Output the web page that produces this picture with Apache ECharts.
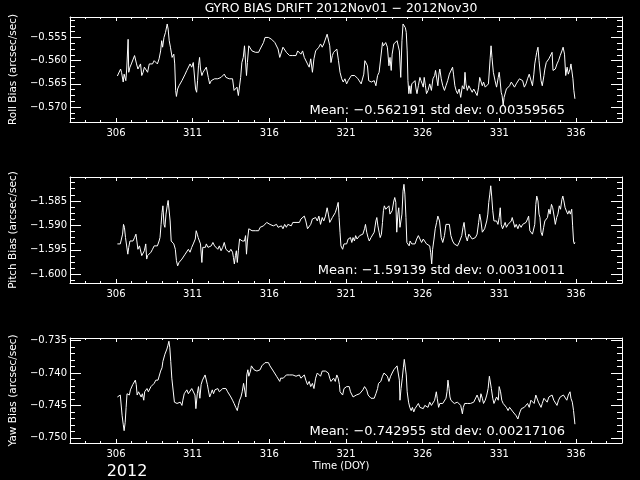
<!DOCTYPE html>
<html><head><meta charset="utf-8">
<script src="https://cdn.jsdelivr.net/npm/echarts@6/dist/echarts.min.js"></script>
<style>html,body{margin:0;padding:0;background:#000}#c{width:640px;height:480px}</style>
</head><body><div id="c"></div>
<script>
const xMajorTicks = [306, 311, 316, 321, 326, 331, 336];
const rollTicks = [-0.570, -0.565, -0.560, -0.555];
const pitchTicks = [-1.600, -1.595, -1.590, -1.585];
const yawTicks = [-0.750, -0.745, -0.740, -0.735];

const rollPoints = [[306.09,-0.5633],[306.19,-0.5629],[306.30,-0.5618],[306.36,-0.5625],[306.47,-0.5646],[306.53,-0.5629],[306.64,-0.5643],[306.70,-0.5618],[306.79,-0.5554],[306.83,-0.5625],[306.91,-0.5614],[307.00,-0.5607],[307.11,-0.5604],[307.21,-0.5589],[307.28,-0.5586],[307.34,-0.5607],[307.43,-0.5618],[307.53,-0.5621],[307.60,-0.5607],[307.68,-0.5632],[307.77,-0.5625],[307.85,-0.5614],[307.96,-0.5611],[308.06,-0.5625],[308.17,-0.5607],[308.28,-0.5604],[308.38,-0.5607],[308.49,-0.5600],[308.60,-0.5604],[308.70,-0.5607],[308.81,-0.5596],[308.91,-0.5579],[308.98,-0.5557],[309.04,-0.5571],[309.13,-0.5550],[309.23,-0.5539],[309.34,-0.5521],[309.40,-0.5532],[309.47,-0.5557],[309.55,-0.5571],[309.66,-0.5593],[309.77,-0.5586],[309.83,-0.5607],[309.89,-0.5664],[309.94,-0.5677],[310.02,-0.5661],[310.11,-0.5654],[310.19,-0.5650],[310.30,-0.5643],[310.40,-0.5639],[310.51,-0.5629],[310.62,-0.5621],[310.72,-0.5618],[310.83,-0.5607],[310.94,-0.5614],[311.04,-0.5604],[311.13,-0.5607],[311.19,-0.5661],[311.26,-0.5668],[311.32,-0.5643],[311.38,-0.5611],[311.45,-0.5593],[311.51,-0.5618],[311.60,-0.5632],[311.68,-0.5625],[311.79,-0.5621],[311.89,-0.5614],[312.02,-0.5636],[312.11,-0.5650],[312.21,-0.5643],[312.32,-0.5646],[312.43,-0.5639],[312.53,-0.5643],[312.64,-0.5639],[312.74,-0.5643],[312.85,-0.5636],[312.96,-0.5639],[313.06,-0.5629],[313.17,-0.5636],[313.28,-0.5632],[313.38,-0.5639],[313.49,-0.5643],[313.60,-0.5639],[313.70,-0.5664],[313.81,-0.5668],[313.89,-0.5657],[313.98,-0.5675],[314.04,-0.5671],[314.13,-0.5636],[314.21,-0.5604],[314.30,-0.5593],[314.38,-0.5568],[314.45,-0.5566],[314.51,-0.5632],[314.57,-0.5604],[314.66,-0.5568],[314.77,-0.5571],[314.87,-0.5579],[314.98,-0.5575],[315.09,-0.5582],[315.19,-0.5579],[315.30,-0.5582],[315.40,-0.5575],[315.51,-0.5571],[315.62,-0.5561],[315.72,-0.5550],[315.83,-0.5546],[315.94,-0.5550],[316.04,-0.5546],[316.15,-0.5554],[316.26,-0.5557],[316.36,-0.5561],[316.47,-0.5564],[316.57,-0.5575],[316.68,-0.5593],[316.79,-0.5593],[316.89,-0.5571],[317.00,-0.5575],[317.11,-0.5582],[317.21,-0.5579],[317.32,-0.5589],[317.43,-0.5589],[317.53,-0.5589],[317.64,-0.5586],[317.74,-0.5589],[317.85,-0.5579],[317.96,-0.5575],[318.06,-0.5586],[318.17,-0.5579],[318.28,-0.5593],[318.38,-0.5589],[318.49,-0.5607],[318.60,-0.5614],[318.70,-0.5596],[318.81,-0.5625],[318.91,-0.5596],[319.02,-0.5579],[319.13,-0.5575],[319.23,-0.5571],[319.34,-0.5564],[319.45,-0.5571],[319.55,-0.5564],[319.66,-0.5561],[319.77,-0.5543],[319.87,-0.5546],[319.94,-0.5568],[320.02,-0.5604],[320.11,-0.5589],[320.19,-0.5582],[320.30,-0.5586],[320.40,-0.5575],[320.51,-0.5600],
[320.61,-0.5625],[320.72,-0.5639],[320.82,-0.5646],[320.93,-0.5639],[321.04,-0.5650],[321.14,-0.5643],[321.25,-0.5639],[321.35,-0.5632],[321.46,-0.5636],[321.57,-0.5632],[321.67,-0.5636],[321.78,-0.5639],[321.89,-0.5636],[321.99,-0.5650],[322.10,-0.5646],[322.16,-0.5629],[322.23,-0.5600],[322.31,-0.5600],[322.40,-0.5611],[322.48,-0.5643],[322.57,-0.5639],[322.65,-0.5646],[322.74,-0.5643],[322.84,-0.5643],[322.95,-0.5654],[323.06,-0.5632],[323.16,-0.5625],[323.27,-0.5621],[323.38,-0.5561],[323.44,-0.5568],[323.52,-0.5571],[323.59,-0.5561],[323.70,-0.5571],[323.80,-0.5611],[323.87,-0.5593],[323.95,-0.5621],[324.01,-0.5586],[324.12,-0.5564],[324.23,-0.5564],[324.33,-0.5557],[324.40,-0.5554],[324.48,-0.5579],[324.57,-0.5636],[324.65,-0.5557],[324.72,-0.5521],[324.78,-0.5518],[324.87,-0.5529],[324.93,-0.5539],[324.99,-0.5579],[325.04,-0.5643],[325.10,-0.5671],[325.16,-0.5654],[325.23,-0.5671],[325.29,-0.5650],[325.40,-0.5650],[325.50,-0.5643],[325.57,-0.5661],[325.63,-0.5671],[325.72,-0.5654],[325.82,-0.5636],[325.89,-0.5643],[325.97,-0.5650],[326.04,-0.5657],[326.10,-0.5636],[326.18,-0.5654],[326.25,-0.5671],[326.35,-0.5664],[326.46,-0.5650],[326.57,-0.5664],[326.67,-0.5639],[326.78,-0.5632],[326.84,-0.5621],[326.91,-0.5618],[326.99,-0.5654],[327.06,-0.5629],[327.12,-0.5618],[327.21,-0.5639],[327.31,-0.5654],[327.42,-0.5664],[327.52,-0.5654],[327.63,-0.5643],[327.74,-0.5629],[327.84,-0.5625],[327.95,-0.5614],[328.01,-0.5629],[328.10,-0.5654],[328.18,-0.5664],[328.27,-0.5671],[328.38,-0.5661],[328.48,-0.5679],[328.59,-0.5654],[328.70,-0.5661],[328.76,-0.5625],[328.82,-0.5650],[328.91,-0.5664],[329.01,-0.5654],[329.12,-0.5650],[329.23,-0.5668],[329.33,-0.5661],[329.44,-0.5664],[329.55,-0.5675],[329.65,-0.5657],[329.72,-0.5636],[329.80,-0.5639],[329.89,-0.5654],[329.97,-0.5646],[330.08,-0.5657],[330.18,-0.5661],[330.29,-0.5650],[330.40,-0.5596],[330.46,-0.5568],[330.52,-0.5593],[330.61,-0.5625],[330.72,-0.5643],[330.82,-0.5657],[330.93,-0.5636],[330.99,-0.5625],[331.04,-0.5639],[331.12,-0.5668],[331.18,-0.5675],[331.25,-0.5696],[331.31,-0.5679],[331.38,-0.5675],[331.46,-0.5661],[331.57,-0.5664],[331.67,-0.5654],[331.78,-0.5646],[331.89,-0.5650],[331.99,-0.5657],[332.10,-0.5650],[332.21,-0.5646],[332.31,-0.5639],[332.38,-0.5643],[332.44,-0.5636],[332.52,-0.5643],[332.63,-0.5657],[332.74,-0.5650],[332.84,-0.5639],[332.95,-0.5629],[333.06,-0.5632],[333.16,-0.5654],[333.25,-0.5629],[333.31,-0.5607],[333.38,-0.5593],[333.44,-0.5582],[333.52,-0.5571],[333.59,-0.5600],[333.65,-0.5604],[333.72,-0.5643],[333.80,-0.5654],[333.91,-0.5632],[333.97,-0.5618],[334.06,-0.5604],[334.16,-0.5607],[334.23,-0.5596],[334.33,-0.5593],[334.44,-0.5582],[334.50,-0.5621],[334.57,-0.5621],[334.65,-0.5618],[334.76,-0.5607],[334.86,-0.5600],[334.97,-0.5589],[335.08,-0.5579],[335.16,-0.5571],[335.25,-0.5586],[335.33,-0.5632],[335.42,-0.5614],[335.50,-0.5629],[335.61,-0.5618],[335.67,-0.5607],[335.74,-0.5611],[335.80,-0.5639],[335.86,-0.5664],[335.93,-0.5682]];

const pitchPoints = [[306.09,-1.5938],[306.19,-1.5942],[306.28,-1.5938],[306.36,-1.5942],[306.43,-1.5918],[306.49,-1.5898],[306.55,-1.5904],[306.62,-1.5925],[306.70,-1.5921],[306.77,-1.5959],[306.83,-1.5945],[306.91,-1.5932],[307.00,-1.5928],[307.11,-1.5932],[307.21,-1.5925],[307.30,-1.5918],[307.36,-1.5932],[307.43,-1.5949],[307.53,-1.5942],[307.62,-1.5942],[307.68,-1.5962],[307.77,-1.5966],[307.85,-1.5952],[307.94,-1.5938],[308.00,-1.5969],[308.06,-1.5962],[308.17,-1.5959],[308.28,-1.5955],[308.38,-1.5949],[308.49,-1.5942],[308.60,-1.5938],[308.70,-1.5942],[308.81,-1.5932],[308.87,-1.5925],[308.94,-1.5898],[309.00,-1.5874],[309.06,-1.5860],[309.13,-1.5898],[309.19,-1.5904],[309.26,-1.5877],[309.34,-1.5860],[309.40,-1.5849],[309.47,-1.5853],[309.53,-1.5891],[309.60,-1.5932],[309.68,-1.5935],[309.77,-1.5938],[309.87,-1.5949],[309.94,-1.5972],[310.02,-1.5983],[310.11,-1.5976],[310.19,-1.5972],[310.30,-1.5969],[310.40,-1.5966],[310.51,-1.5959],[310.62,-1.5955],[310.72,-1.5949],[310.83,-1.5955],[310.94,-1.5945],[311.04,-1.5938],[311.11,-1.5935],[311.17,-1.5928],[311.23,-1.5911],[311.30,-1.5918],[311.36,-1.5925],[311.43,-1.5921],[311.51,-1.5938],[311.60,-1.5976],[311.66,-1.5945],[311.74,-1.5942],[311.83,-1.5945],[311.89,-1.5938],[312.00,-1.5945],[312.11,-1.5949],[312.21,-1.5942],[312.32,-1.5935],[312.43,-1.5942],[312.53,-1.5945],[312.64,-1.5949],[312.74,-1.5942],[312.85,-1.5952],[312.96,-1.5945],[313.06,-1.5935],[313.17,-1.5949],[313.28,-1.5952],[313.38,-1.5955],[313.49,-1.5949],[313.60,-1.5955],[313.66,-1.5966],[313.72,-1.5979],[313.79,-1.5962],[313.85,-1.5952],[313.91,-1.5976],[313.98,-1.5952],[314.06,-1.5928],[314.15,-1.5925],[314.23,-1.5932],[314.32,-1.5928],[314.38,-1.5932],[314.45,-1.5921],[314.51,-1.5959],[314.57,-1.5932],[314.66,-1.5907],[314.77,-1.5904],[314.87,-1.5911],[314.98,-1.5907],[315.09,-1.5911],[315.19,-1.5914],[315.30,-1.5911],[315.40,-1.5904],[315.51,-1.5901],[315.62,-1.5901],[315.72,-1.5898],[315.83,-1.5894],[315.94,-1.5898],[316.04,-1.5898],[316.15,-1.5894],[316.26,-1.5901],[316.36,-1.5904],[316.47,-1.5898],[316.57,-1.5904],[316.68,-1.5904],[316.79,-1.5901],[316.89,-1.5907],[317.00,-1.5898],[317.11,-1.5904],[317.21,-1.5898],[317.32,-1.5894],[317.43,-1.5901],[317.53,-1.5894],[317.64,-1.5891],[317.74,-1.5894],[317.85,-1.5891],[317.96,-1.5894],[318.06,-1.5887],[318.17,-1.5891],[318.28,-1.5881],[318.38,-1.5891],[318.49,-1.5907],[318.60,-1.5904],[318.70,-1.5898],[318.81,-1.5887],[318.91,-1.5891],[319.02,-1.5884],[319.13,-1.5891],[319.23,-1.5881],[319.34,-1.5898],[319.45,-1.5884],[319.55,-1.5891],[319.66,-1.5881],[319.77,-1.5864],[319.85,-1.5877],[319.94,-1.5894],[320.02,-1.5891],[320.11,-1.5884],[320.19,-1.5881],[320.30,-1.5874],[320.40,-1.5864],[320.49,-1.5853],[320.55,-1.5884],
[320.61,-1.5914],[320.67,-1.5942],[320.78,-1.5949],[320.87,-1.5938],[320.95,-1.5935],[321.04,-1.5938],[321.14,-1.5928],[321.21,-1.5932],[321.29,-1.5925],[321.38,-1.5935],[321.46,-1.5925],[321.55,-1.5932],[321.63,-1.5921],[321.72,-1.5928],[321.80,-1.5925],[321.89,-1.5921],[321.99,-1.5918],[322.10,-1.5918],[322.21,-1.5907],[322.27,-1.5898],[322.35,-1.5914],[322.44,-1.5925],[322.52,-1.5932],[322.63,-1.5925],[322.74,-1.5928],[322.84,-1.5914],[322.95,-1.5891],[323.01,-1.5884],[323.08,-1.5901],[323.16,-1.5914],[323.23,-1.5925],[323.31,-1.5918],[323.38,-1.5894],[323.44,-1.5870],[323.50,-1.5860],[323.59,-1.5867],[323.70,-1.5864],[323.80,-1.5860],[323.87,-1.5877],[323.95,-1.5874],[324.01,-1.5870],[324.12,-1.5850],[324.18,-1.5843],[324.25,-1.5853],[324.31,-1.5914],[324.38,-1.5877],[324.44,-1.5864],[324.52,-1.5904],[324.65,-1.5877],[324.72,-1.5830],[324.78,-1.5816],[324.84,-1.5836],[324.91,-1.5884],[324.97,-1.5935],[325.04,-1.5938],[325.12,-1.5942],[325.18,-1.5932],[325.29,-1.5938],[325.40,-1.5935],[325.50,-1.5938],[325.61,-1.5928],[325.72,-1.5921],[325.82,-1.5925],[325.93,-1.5935],[326.04,-1.5928],[326.14,-1.5932],[326.25,-1.5938],[326.35,-1.5935],[326.46,-1.5942],[326.52,-1.5955],[326.59,-1.5979],[326.65,-1.5949],[326.74,-1.5928],[326.82,-1.5907],[326.91,-1.5894],[326.99,-1.5881],[327.10,-1.5891],[327.21,-1.5925],[327.31,-1.5935],[327.42,-1.5921],[327.52,-1.5898],[327.63,-1.5894],[327.74,-1.5898],[327.84,-1.5921],[327.95,-1.5932],[328.06,-1.5938],[328.16,-1.5935],[328.27,-1.5942],[328.38,-1.5935],[328.48,-1.5932],[328.55,-1.5921],[328.63,-1.5904],[328.70,-1.5894],[328.80,-1.5921],[328.91,-1.5932],[329.01,-1.5918],[329.12,-1.5921],[329.23,-1.5928],[329.33,-1.5925],[329.44,-1.5925],[329.55,-1.5918],[329.65,-1.5894],[329.72,-1.5877],[329.80,-1.5891],[329.89,-1.5914],[329.97,-1.5918],[330.04,-1.5907],[330.10,-1.5907],[330.18,-1.5891],[330.25,-1.5877],[330.31,-1.5853],[330.38,-1.5836],[330.44,-1.5819],[330.50,-1.5840],[330.57,-1.5870],[330.65,-1.5891],[330.74,-1.5894],[330.82,-1.5891],[330.91,-1.5898],[330.99,-1.5884],[331.06,-1.5864],[331.12,-1.5898],[331.21,-1.5907],[331.29,-1.5901],[331.38,-1.5894],[331.46,-1.5904],[331.57,-1.5898],[331.67,-1.5894],[331.78,-1.5891],[331.84,-1.5884],[331.93,-1.5881],[332.01,-1.5904],[332.10,-1.5898],[332.21,-1.5907],[332.31,-1.5898],[332.42,-1.5904],[332.52,-1.5898],[332.63,-1.5901],[332.74,-1.5894],[332.84,-1.5887],[332.91,-1.5881],[332.99,-1.5911],[333.08,-1.5907],[333.16,-1.5918],[333.25,-1.5914],[333.31,-1.5898],[333.38,-1.5857],[333.44,-1.5840],[333.52,-1.5850],[333.59,-1.5877],[333.65,-1.5884],[333.72,-1.5914],[333.80,-1.5921],[333.89,-1.5904],[333.97,-1.5891],[334.06,-1.5887],[334.14,-1.5884],[334.23,-1.5867],[334.31,-1.5877],[334.40,-1.5857],[334.48,-1.5864],[334.57,-1.5881],[334.65,-1.5898],[334.74,-1.5884],[334.82,-1.5877],[334.91,-1.5860],[334.99,-1.5867],[335.08,-1.5847],[335.14,-1.5840],[335.21,-1.5850],[335.29,-1.5864],[335.38,-1.5867],[335.46,-1.5877],[335.55,-1.5870],[335.63,-1.5877],[335.72,-1.5867],[335.78,-1.5901],[335.84,-1.5932],[335.89,-1.5938],[335.93,-1.5935]];

const yawPoints = [[306.09,-0.7437],[306.19,-0.7435],[306.28,-0.7434],[306.36,-0.7433],[306.40,-0.7466],[306.47,-0.7479],[306.53,-0.7489],[306.60,-0.7476],[306.66,-0.7453],[306.72,-0.7432],[306.79,-0.7429],[306.87,-0.7434],[306.94,-0.7426],[307.00,-0.7424],[307.09,-0.7418],[307.17,-0.7416],[307.26,-0.7411],[307.32,-0.7418],[307.38,-0.7434],[307.47,-0.7429],[307.55,-0.7432],[307.64,-0.7437],[307.72,-0.7432],[307.81,-0.7442],[307.87,-0.7429],[307.96,-0.7432],[308.02,-0.7424],[308.11,-0.7429],[308.19,-0.7426],[308.28,-0.7421],[308.38,-0.7418],[308.49,-0.7416],[308.60,-0.7411],[308.66,-0.7408],[308.74,-0.7411],[308.83,-0.7408],[308.91,-0.7397],[309.00,-0.7392],[309.06,-0.7382],[309.13,-0.7379],[309.19,-0.7371],[309.26,-0.7374],[309.32,-0.7363],[309.38,-0.7358],[309.45,-0.7351],[309.51,-0.7361],[309.57,-0.7382],[309.64,-0.7408],[309.72,-0.7408],[309.81,-0.7445],[309.89,-0.7447],[309.98,-0.7447],[310.09,-0.7447],[310.19,-0.7445],[310.30,-0.7450],[310.36,-0.7442],[310.45,-0.7432],[310.53,-0.7429],[310.62,-0.7426],[310.72,-0.7432],[310.83,-0.7434],[310.94,-0.7424],[311.04,-0.7421],[311.15,-0.7434],[311.21,-0.7455],[311.30,-0.7432],[311.38,-0.7421],[311.47,-0.7439],[311.55,-0.7418],[311.64,-0.7411],[311.72,-0.7413],[311.81,-0.7403],[311.89,-0.7405],[311.96,-0.7418],[312.02,-0.7426],[312.11,-0.7437],[312.19,-0.7432],[312.28,-0.7426],[312.36,-0.7432],[312.45,-0.7426],[312.53,-0.7426],[312.64,-0.7424],[312.74,-0.7429],[312.85,-0.7426],[312.96,-0.7424],[313.06,-0.7421],[313.17,-0.7424],[313.28,-0.7429],[313.38,-0.7432],[313.49,-0.7437],[313.60,-0.7442],[313.70,-0.7447],[313.81,-0.7453],[313.91,-0.7458],[313.98,-0.7450],[314.06,-0.7442],[314.15,-0.7437],[314.23,-0.7429],[314.32,-0.7416],[314.40,-0.7413],[314.47,-0.7437],[314.53,-0.7403],[314.60,-0.7395],[314.66,-0.7405],[314.77,-0.7397],[314.83,-0.7389],[314.91,-0.7392],[315.00,-0.7395],[315.09,-0.7392],[315.19,-0.7397],[315.30,-0.7400],[315.40,-0.7395],[315.51,-0.7389],[315.62,-0.7387],[315.72,-0.7384],[315.83,-0.7386],[315.94,-0.7384],[316.04,-0.7389],[316.15,-0.7392],[316.26,-0.7397],[316.36,-0.7400],[316.47,-0.7405],[316.57,-0.7408],[316.68,-0.7413],[316.74,-0.7408],[316.83,-0.7411],[316.91,-0.7408],[317.00,-0.7411],[317.11,-0.7403],[317.21,-0.7400],[317.32,-0.7403],[317.43,-0.7405],[317.53,-0.7403],[317.64,-0.7400],[317.74,-0.7405],[317.85,-0.7405],[317.96,-0.7403],[318.06,-0.7408],[318.17,-0.7405],[318.28,-0.7403],[318.38,-0.7411],[318.49,-0.7418],[318.60,-0.7413],[318.70,-0.7421],[318.81,-0.7416],[318.91,-0.7424],[319.02,-0.7408],[319.13,-0.7400],[319.23,-0.7403],[319.34,-0.7405],[319.45,-0.7397],[319.55,-0.7400],[319.66,-0.7397],[319.77,-0.7395],[319.85,-0.7400],[319.94,-0.7408],[320.02,-0.7413],[320.11,-0.7411],[320.19,-0.7408],[320.30,-0.7413],[320.40,-0.7403],[320.49,-0.7408],[320.57,-0.7418],
[320.61,-0.7429],[320.72,-0.7426],[320.78,-0.7434],[320.87,-0.7424],[320.95,-0.7426],[321.04,-0.7421],[321.14,-0.7424],[321.21,-0.7421],[321.29,-0.7429],[321.38,-0.7432],[321.46,-0.7437],[321.57,-0.7439],[321.67,-0.7434],[321.78,-0.7437],[321.89,-0.7432],[321.99,-0.7429],[322.10,-0.7426],[322.21,-0.7421],[322.27,-0.7424],[322.35,-0.7426],[322.44,-0.7434],[322.52,-0.7437],[322.63,-0.7439],[322.74,-0.7442],[322.84,-0.7439],[322.95,-0.7432],[323.06,-0.7424],[323.12,-0.7416],[323.18,-0.7418],[323.27,-0.7413],[323.38,-0.7405],[323.48,-0.7400],[323.59,-0.7403],[323.70,-0.7405],[323.80,-0.7413],[323.91,-0.7405],[324.01,-0.7400],[324.12,-0.7395],[324.23,-0.7392],[324.33,-0.7389],[324.40,-0.7392],[324.48,-0.7411],[324.52,-0.7442],[324.59,-0.7424],[324.67,-0.7408],[324.74,-0.7392],[324.80,-0.7379],[324.87,-0.7382],[324.93,-0.7403],[324.99,-0.7429],[325.08,-0.7445],[325.16,-0.7453],[325.25,-0.7458],[325.33,-0.7453],[325.42,-0.7460],[325.50,-0.7455],[325.61,-0.7453],[325.72,-0.7447],[325.82,-0.7453],[325.93,-0.7450],[326.04,-0.7455],[326.14,-0.7450],[326.25,-0.7447],[326.35,-0.7453],[326.46,-0.7445],[326.57,-0.7450],[326.67,-0.7447],[326.78,-0.7442],[326.89,-0.7429],[326.95,-0.7439],[327.04,-0.7453],[327.12,-0.7447],[327.21,-0.7445],[327.31,-0.7447],[327.42,-0.7445],[327.52,-0.7439],[327.59,-0.7429],[327.65,-0.7411],[327.72,-0.7424],[327.78,-0.7437],[327.84,-0.7442],[327.95,-0.7445],[328.06,-0.7447],[328.16,-0.7450],[328.27,-0.7445],[328.38,-0.7447],[328.48,-0.7450],[328.59,-0.7463],[328.65,-0.7453],[328.74,-0.7447],[328.82,-0.7450],[328.91,-0.7447],[329.01,-0.7450],[329.12,-0.7447],[329.23,-0.7450],[329.33,-0.7445],[329.44,-0.7447],[329.55,-0.7434],[329.63,-0.7439],[329.72,-0.7445],[329.80,-0.7432],[329.89,-0.7439],[329.97,-0.7447],[330.08,-0.7442],[330.18,-0.7434],[330.27,-0.7424],[330.35,-0.7405],[330.42,-0.7405],[330.48,-0.7424],[330.57,-0.7439],[330.65,-0.7447],[330.74,-0.7445],[330.82,-0.7437],[330.93,-0.7442],[330.99,-0.7421],[331.08,-0.7429],[331.16,-0.7442],[331.25,-0.7447],[331.35,-0.7450],[331.46,-0.7453],[331.57,-0.7458],[331.67,-0.7453],[331.78,-0.7455],[331.89,-0.7460],[331.99,-0.7463],[332.10,-0.7466],[332.21,-0.7471],[332.27,-0.7466],[332.35,-0.7460],[332.44,-0.7455],[332.52,-0.7458],[332.63,-0.7453],[332.74,-0.7450],[332.84,-0.7447],[332.95,-0.7453],[333.06,-0.7442],[333.16,-0.7439],[333.27,-0.7447],[333.38,-0.7434],[333.46,-0.7437],[333.55,-0.7445],[333.63,-0.7442],[333.72,-0.7453],[333.80,-0.7447],[333.91,-0.7439],[334.01,-0.7442],[334.12,-0.7445],[334.23,-0.7437],[334.33,-0.7439],[334.44,-0.7434],[334.55,-0.7442],[334.65,-0.7445],[334.76,-0.7450],[334.86,-0.7442],[334.97,-0.7437],[335.08,-0.7439],[335.18,-0.7434],[335.29,-0.7437],[335.40,-0.7442],[335.50,-0.7434],[335.61,-0.7429],[335.67,-0.7439],[335.76,-0.7445],[335.84,-0.7458],[335.93,-0.7479]];

const FONT = 'DejaVu Sans';
const WHITE = '#ffffff';
const X_MIN = 303, X_MAX = 339;

const panels = [
  { name: 'Roll Bias (arcsec/sec)', points: rollPoints, ticks: rollTicks, min: -0.5732, max: -0.5506, minorStep: 0.00125, top: 17, height: 105,
    mean: 'Mean: \u22120.562191 std dev: 0.00359565', meanY: 111 },
  { name: 'Pitch Bias (arcsec/sec)', points: pitchPoints, ticks: pitchTicks, min: -1.6018, max: -1.5801, minorStep: 0.00125, top: 177, height: 106,
    mean: 'Mean: \u22121.59139 std dev: 0.00310011', meanY: 271 },
  { name: 'Yaw Bias (arcsec/sec)', points: yawPoints, ticks: yawTicks, min: -0.7508, max: -0.7346, minorStep: 0.001, top: 338, height: 105,
    mean: 'Mean: \u22120.742955 std dev: 0.00217106', meanY: 432 }
];

function minorValues(p) {
  const out = [];
  const base = p.ticks[0];
  for (let k = -30; k <= 30; k++) {
    const v = Math.round((base + k * p.minorStep) * 1e7) / 1e7;
    if (v >= p.min && v <= p.max) out.push(v);
  }
  return out;
}

const grid = [], xAxis = [], yAxis = [], series = [];
panels.forEach((p, i) => {
  grid.push({ left: 60, width: 562, top: p.top, height: p.height, containLabel: false });
  const xBase = { gridIndex: i, type: 'value', min: X_MIN, max: X_MAX, splitLine: { show: false } };
  xAxis.push(Object.assign({}, xBase, {
    position: 'bottom',
    axisLine: { show: true, onZero: false, lineStyle: { color: WHITE, width: 1 } },
    axisTick: { show: true, inside: true, length: 4, customValues: xMajorTicks, lineStyle: { color: WHITE } },
    axisLabel: { show: true, customValues: xMajorTicks, color: WHITE, fontFamily: FONT, fontSize: 10, margin: 6, formatter: v => String(v) }
  }));
  xAxis.push(Object.assign({}, xBase, {
    position: 'bottom', interval: 1,
    axisLine: { show: false, onZero: false },
    axisTick: { show: true, inside: true, length: 2, lineStyle: { color: WHITE } },
    axisLabel: { show: false }
  }));
  xAxis.push(Object.assign({}, xBase, {
    position: 'top',
    axisLine: { show: true, onZero: false, lineStyle: { color: WHITE, width: 1 } },
    axisTick: { show: true, inside: true, length: 4, customValues: xMajorTicks, lineStyle: { color: WHITE } },
    axisLabel: { show: false }
  }));
  xAxis.push(Object.assign({}, xBase, {
    position: 'top', interval: 1,
    axisLine: { show: false, onZero: false },
    axisTick: { show: true, inside: true, length: 2, lineStyle: { color: WHITE } },
    axisLabel: { show: false }
  }));

  const minors = minorValues(p);
  const yBase = { gridIndex: i, type: 'value', min: p.min, max: p.max, splitLine: { show: false }, scale: true };
  yAxis.push(Object.assign({}, yBase, {
    position: 'left',
    name: p.name, nameLocation: 'middle', nameGap: 51, nameRotate: 90,
    nameTextStyle: { color: WHITE, fontFamily: FONT, fontSize: 10.5 },
    axisLine: { show: true, onZero: false, lineStyle: { color: WHITE, width: 1 } },
    axisTick: { show: true, inside: true, length: 11, customValues: p.ticks, lineStyle: { color: WHITE } },
    axisLabel: { show: true, customValues: p.ticks, color: WHITE, fontFamily: FONT, fontSize: 10, margin: 3,
      formatter: v => v.toFixed(3).replace('-', '\u2212') }
  }));
  yAxis.push(Object.assign({}, yBase, {
    position: 'left',
    axisLine: { show: false, onZero: false },
    axisTick: { show: true, inside: true, length: 5, customValues: minors, lineStyle: { color: WHITE } },
    axisLabel: { show: false }
  }));
  yAxis.push(Object.assign({}, yBase, {
    position: 'right',
    axisLine: { show: true, onZero: false, lineStyle: { color: WHITE, width: 1 } },
    axisTick: { show: true, inside: true, length: 11, customValues: p.ticks, lineStyle: { color: WHITE } },
    axisLabel: { show: false }
  }));
  yAxis.push(Object.assign({}, yBase, {
    position: 'right',
    axisLine: { show: false, onZero: false },
    axisTick: { show: true, inside: true, length: 5, customValues: minors, lineStyle: { color: WHITE } },
    axisLabel: { show: false }
  }));

  series.push({
    type: 'line', xAxisIndex: i * 4, yAxisIndex: i * 4, data: p.points,
    symbol: 'none', showSymbol: false, clip: true,
    lineStyle: { color: WHITE, width: 1 }, emphasis: { disabled: true }
  });
});

const graphics = [
  { type: 'text', left: 'center', x: 341, y: 9, style: { text: 'GYRO BIAS DRIFT 2012Nov01 \u2212 2012Nov30', fill: WHITE, font: '12.4px "DejaVu Sans"', textAlign: 'center', textVerticalAlign: 'middle' } },
  { type: 'text', x: 341, y: 466, style: { text: 'Time (DOY)', fill: WHITE, font: '10px "DejaVu Sans"', textAlign: 'center', textVerticalAlign: 'middle' } },
  { type: 'text', x: 127, y: 472, style: { text: '2012', fill: WHITE, font: '16px "DejaVu Sans"', textAlign: 'center', textVerticalAlign: 'middle' } }
];
panels.forEach(p => {
  graphics.push({ type: 'text', x: 565, y: p.meanY, style: { text: p.mean, fill: WHITE, font: '13px "DejaVu Sans"', textAlign: 'right', textVerticalAlign: 'middle' } });
});
graphics[0].left = undefined;

const chart = echarts.init(document.getElementById('c'), null, { renderer: 'canvas' });
chart.setOption({
  backgroundColor: '#000000',
  animation: false,
  grid, xAxis, yAxis, series,
  graphic: graphics.map(g => { const o = Object.assign({}, g); delete o.left; return o; })
});
</script>
</body></html>
